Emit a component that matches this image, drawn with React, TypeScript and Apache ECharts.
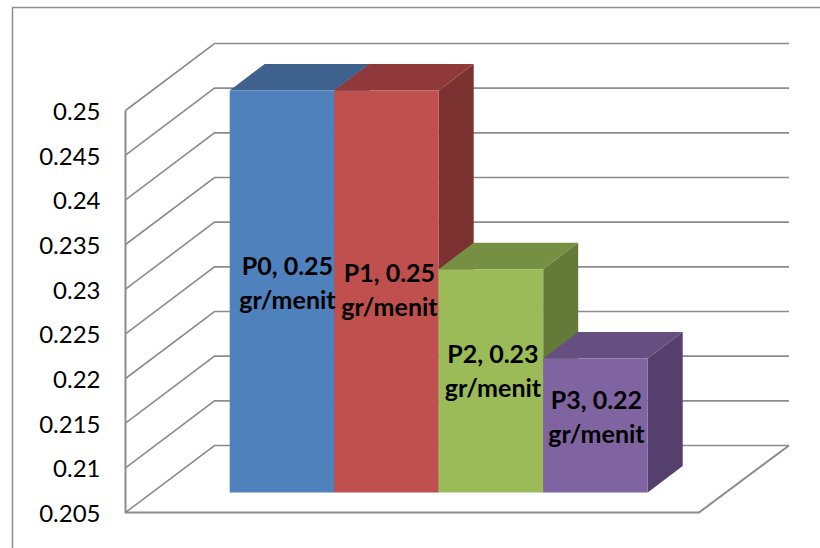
import React, { useEffect, useRef } from "react";
import * as echarts from "echarts";

const seriesNames = ["P0", "P1", "P2", "P3"];
const seriesValues = [0.25, 0.25, 0.23, 0.22];
const valueLabels = ["0.25", "0.25", "0.23", "0.22"];
const unitLabel = "gr/menit";
const yMin = 0.205;
const yMax = 0.25;
const yStep = 0.005;
const yTicks = [0.205, 0.21, 0.215, 0.22, 0.225, 0.23, 0.235, 0.24, 0.245, 0.25];

const faceColors = ["#4f81bd", "#c0504d", "#9bbb59", "#8064a2"];
const topColors = ["#3f618e", "#90393a", "#769043", "#664f80"];
const sideColors = ["#375780", "#7a3130", "#637a38", "#553f6c"];

// 3D projection, in pixels
const WALL_DX = 89;
const WALL_DY = -67;
const BAR_DX = 26.4; // bar's front plane behind the chart's front plane
const BAR_DY = -20;
const BAR_SHIFT_X = 35;
const BAR_SHIFT_Y = -26.5;
const LINE = "#8c8c8c";
const labelNudge = [-10, -2.5, -11, -9.5];
const labelNudgeX = [5.5, 3, 2, 1];

export default function App() {
  const ref = useRef<HTMLDivElement>(null);
  useEffect(() => {
    const chart = echarts.init(ref.current!, undefined, { renderer: "svg" });
    const lineStyle = { stroke: LINE, lineWidth: 1.6, fill: "none" };
    chart.setOption({
      animation: false,
      backgroundColor: "#ffffff",
      grid: { left: 125.5, top: 110.5, width: 573.5, height: 402 },
      xAxis: { type: "value", min: -0.7445, max: 4.7435, show: false },
      yAxis: {
        type: "value",
        min: yMin,
        max: yMax,
        interval: yStep,
        axisLine: { show: false },
        axisTick: { show: false },
        splitLine: { show: false },
        axisLabel: {
          margin: 25,
          color: "#000000",
          fontFamily: "Lato",
          fontSize: 24,
          formatter: (v: number) => String(+v.toFixed(3)),
        },
      },
      graphic: [
        {
          type: "polyline",
          silent: true,
          shape: { points: [[12.5, 548], [12.5, 7.5], [820, 7.5]] },
          style: { stroke: "#8e8e8e", lineWidth: 1.5, fill: "none" },
        },
      ],
      series: [
        {
          type: "custom",
          name: "walls",
          clip: false,
          silent: true,
          z: 1,
          data: yTicks.map((v) => [0, v]),
          encode: { x: 0, y: 1 },
          renderItem: (_p: any, api: any) => {
            const [x0, y] = api.coord([-0.7445, api.value(1)]);
            const [x1] = api.coord([4.7435, api.value(1)]);
            return {
              type: "polyline",
              shape: {
                points: [
                  [x0, y],
                  [x0 + WALL_DX, y + WALL_DY],
                  [x1 + WALL_DX + 1, y + WALL_DY],
                ],
              },
              style: lineStyle,
            };
          },
        },
        {
          type: "custom",
          name: "floor",
          clip: false,
          silent: true,
          z: 1,
          data: [[0, yMin]],
          encode: { x: 0, y: 1 },
          renderItem: (_p: any, api: any) => {
            const [x0, y] = api.coord([-0.7445, yMin]);
            const [x1] = api.coord([4.7435, yMin]);
            const [, yTop] = api.coord([-0.7445, yMax]);
            return {
              type: "polyline",
              shape: {
                points: [
                  [x0, yTop],
                  [x0, y],
                  [x1, y],
                  [x1 + WALL_DX + 1, y + WALL_DY],
                ],
              },
              style: { ...lineStyle, lineWidth: 2 },
            };
          },
        },
        {
          type: "custom",
          name: "bars",
          clip: false,
          silent: true,
          z: 2,
          data: seriesValues.map((v, i) => [i, v]),
          encode: { x: 0, y: 1 },
          renderItem: (p: any, api: any) => {
            const i = api.value(0);
            const v = api.value(1);
            const [a, t] = api.coord([i, v]);
            const [b, f] = api.coord([i + 1, yMin]);
            const l = a + BAR_DX;
            const r = b + BAR_DX;
            const top = t + BAR_DY;
            const bot = f + BAR_DY;
            const sx = BAR_SHIFT_X;
            const sy = BAR_SHIFT_Y;
            const k = p.dataIndex;
            return {
              type: "group",
              children: [
                {
                  type: "polygon",
                  shape: { points: [[r, top], [r + sx, top + sy], [r + sx, bot + sy], [r, bot]] },
                  style: { fill: sideColors[k] },
                },
                {
                  type: "polygon",
                  shape: { points: [[l, top], [l + sx, top + sy], [r + sx, top + sy], [r, top]] },
                  style: { fill: topColors[k] },
                },
                {
                  type: "rect",
                  shape: { x: l, y: top, width: r - l, height: bot - top },
                  style: { fill: faceColors[k] },
                },
              ],
            };
          },
        },
        {
          type: "custom",
          name: "labels",
          clip: false,
          silent: true,
          z: 3,
          data: seriesValues.map((v, i) => [i, v]),
          encode: { x: 0, y: 1 },
          renderItem: (p: any, api: any) => {
            const i = api.value(0);
            const v = api.value(1);
            const k = p.dataIndex;
            const [a, t] = api.coord([i, v]);
            const [b, f] = api.coord([i + 1, yMin]);
            return {
              type: "text",
              style: {
                x: (a + b) / 2 + BAR_DX + labelNudgeX[k],
                y: (t + f) / 2 + BAR_DY + labelNudge[k],
                text: `${seriesNames[k]}, ${valueLabels[k]}\n${unitLabel}`,
                align: "center",
                verticalAlign: "middle",
                fontFamily: "Lato",
                fontWeight: "bold",
                fontSize: 25,
                lineHeight: 34,
                fill: "#000000",
              },
            };
          },
        },
      ],
    });
    return () => chart.dispose();
  }, []);
  return (
    <div
      ref={ref}
      style={{ position: "fixed", left: 0, top: 0, width: 820, height: 548, overflow: "hidden" }}
    />
  );
}
